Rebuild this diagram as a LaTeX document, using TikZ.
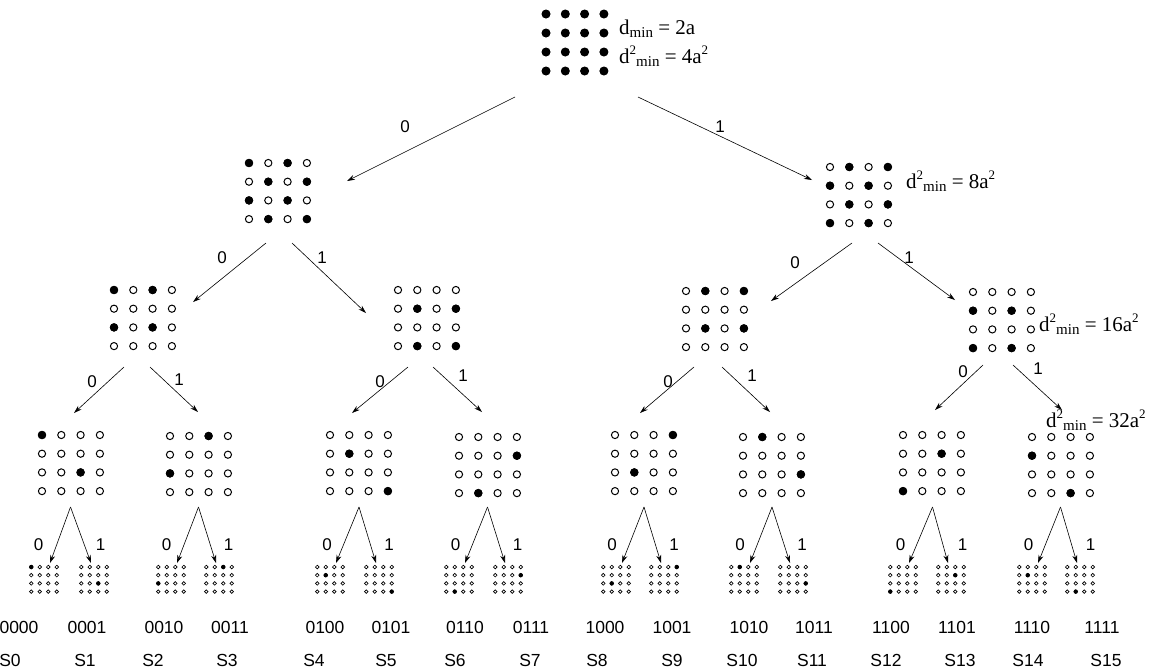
\documentclass[tikz,border=0pt]{standalone}
\usepackage{fontspec}
\setmainfont{Liberation Sans}
\newfontfamily\seriffont{Liberation Serif}
\usetikzlibrary{arrows.meta}

\tikzset{
  x=1pt, y=-1pt,
  edge/.style={-{Stealth[length=8pt,width=5pt]}, line width=0.6pt},
  elab/.style={font=\fontsize{17}{17}\selectfont, inner sep=0pt},
  dlab/.style={font=\seriffont\fontsize{21}{21}\selectfont, anchor=base west, inner sep=0pt},
  bits/.style={font=\fontsize{17.5}{17.5}\selectfont, inner sep=0pt},
}

% name, x1, y1, dx, dy, open radius, filled radius, line width, filled list (row/col)
\newcommand{\qamgrid}[9]{%
  \coordinate (#1) at ({#2+1.5*#4},{#3+1.5*#5});
  \foreach \r in {1,...,4}{\foreach \c in {1,...,4}{
    \draw[line width=#8, fill=white] ({#2+(\c-1)*#4},{#3+(\r-1)*#5}) circle[radius=#6];}}
  \foreach \r/\c in {#9}{\fill[black] ({#2+(\c-1)*#4},{#3+(\r-1)*#5}) circle[radius=#7];}
}
\newcommand{\biggrid}[4]{\qamgrid{#1}{#2}{#3}{19.3}{18.7}{3.6pt}{4.2pt}{1pt}{#4}}
\newcommand{\leafgrid}[3]{\qamgrid{#1}{#2-12.75}{567}{8.5}{8.2}{1.8pt}{2.2pt}{0.65pt}{#3}}
\newcommand{\mn}{\raisebox{-3pt}{\fontsize{15}{15}\selectfont min}}
\newcommand{\sq}{\raisebox{9pt}{\fontsize{13}{13}\selectfont 2}}

\begin{document}
\begin{tikzpicture}
\useasboundingbox (0,0) rectangle (1154,670);

% ---- grids ----
\qamgrid{g}{546}{14}{19.3}{19}{3.6pt}{4.5pt}{1pt}{1/1,1/2,1/3,1/4,2/1,2/2,2/3,2/4,3/1,3/2,3/3,3/4,4/1,4/2,4/3,4/4}
\biggrid{g0}{249}{163}{1/1,1/3,2/2,2/4,3/1,3/3,4/2,4/4}
\biggrid{g1}{830}{167}{1/2,1/4,2/1,2/3,3/2,3/4,4/1,4/3}
\biggrid{g00}{114}{290}{1/1,1/3,3/1,3/3}
\biggrid{g01}{398}{290}{2/2,2/4,4/2,4/4}
\biggrid{g10}{686}{291}{1/2,1/4,3/2,3/4}
\biggrid{g11}{973}{292}{2/1,2/3,4/1,4/3}
\biggrid{g000}{42}{435}{1/1,3/3}
\biggrid{g001}{170}{436}{1/3,3/1}
\biggrid{g010}{330}{435}{2/2,4/4}
\biggrid{g011}{459}{437}{2/4,4/2}
\biggrid{g100}{615}{435}{1/4,3/2}
\biggrid{g101}{743}{437}{1/2,3/4}
\biggrid{g110}{903}{435}{2/3,4/1}
\biggrid{g111}{1032}{437}{2/1,4/3}

\leafgrid{s0}{44}{1/1}
\leafgrid{s1}{94}{3/3}
\leafgrid{s2}{171}{3/1}
\leafgrid{s3}{219}{1/3}
\leafgrid{s4}{330}{2/2}
\leafgrid{s5}{379}{4/4}
\leafgrid{s6}{459}{4/2}
\leafgrid{s7}{508}{2/4}
\leafgrid{s8}{616}{3/2}
\leafgrid{s9}{664}{1/4}
\leafgrid{s10}{744}{1/2}
\leafgrid{s11}{793}{3/4}
\leafgrid{s12}{903}{4/1}
\leafgrid{s13}{951}{2/3}
\leafgrid{s14}{1032}{2/2}
\leafgrid{s15}{1080}{4/2}

% ---- connector end points ----
\coordinate (g-o0) at (515,97);   \coordinate (g-o1) at (638,97);
\coordinate (g0-i) at (347,181);  \coordinate (g1-i) at (812,180);
\coordinate (g0-o0) at (266,243); \coordinate (g0-o1) at (292,243);
\coordinate (g1-o0) at (852,243); \coordinate (g1-o1) at (878,243);
\coordinate (g00-i) at (193,302); \coordinate (g01-i) at (366,313);
\coordinate (g10-i) at (771,301); \coordinate (g11-i) at (955,300);
\coordinate (g00-o0) at (124,367); \coordinate (g00-o1) at (150,367);
\coordinate (g01-o0) at (408,367); \coordinate (g01-o1) at (433,367);
\coordinate (g10-o0) at (694,367); \coordinate (g10-o1) at (722,367);
\coordinate (g11-o0) at (983,365); \coordinate (g11-o1) at (1013,365);
\coordinate (g000-i) at (74,413);  \coordinate (g001-i) at (198,412);
\coordinate (g010-i) at (352,413); \coordinate (g011-i) at (482,412);
\coordinate (g100-i) at (640,413); \coordinate (g101-i) at (770,412);
\coordinate (g110-i) at (935,410); \coordinate (g111-i) at (1062,410);

\foreach \a/\b in {g-o0/g0-i, g-o1/g1-i, g0-o0/g00-i, g0-o1/g01-i, g1-o0/g10-i, g1-o1/g11-i,
  g00-o0/g000-i, g00-o1/g001-i, g01-o0/g010-i, g01-o1/g011-i,
  g10-o0/g100-i, g10-o1/g101-i, g11-o0/g110-i, g11-o1/g111-i}
  \draw[edge] (\a) -- (\b);

% third level to leaves
\foreach \p/\l/\m/\cx/\la/\lb in {g000/s0/s1/70.5/44/94, g001/s2/s3/198.5/171/219,
  g010/s4/s5/359/330/379, g011/s6/s7/487.5/459/508,
  g100/s8/s9/644/616/664, g101/s10/s11/772/744/793,
  g110/s12/s13/932.5/903/951, g111/s14/s15/1060.5/1032/1080}{
  \coordinate (\p-o) at (\cx,507);
  \coordinate (\l-i) at (\la+6,563);
  \coordinate (\m-i) at (\lb-3,563);
  \draw[edge] (\p-o) -- (\l-i);
  \draw[edge] (\p-o) -- (\m-i);
  \node[elab] (\p-l0) at (\cx-32,545) {0};
  \node[elab] (\p-l1) at (\cx+30,545) {1};
}

% ---- edge labels ----
\node[elab] (e1) at (405,127) {0};
\node[elab] (e2) at (720,127) {1};
\node[elab] (e3) at (222,258) {0};
\node[elab] (e4) at (322,258) {1};
\node[elab] (e5) at (795,263) {0};
\node[elab] (e6) at (909,258) {1};
\node[elab] (e7) at (92,382) {0};
\node[elab] (e8) at (179,380) {1};
\node[elab] (e9) at (380,382) {0};
\node[elab] (e10) at (463,376) {1};
\node[elab] (e11) at (668,382) {0};
\node[elab] (e12) at (752,376) {1};
\node[elab] (e13) at (963,372) {0};
\node[elab] (e14) at (1038,369) {1};

% ---- distance labels ----
\node[dlab] (d1) at (619,34) {d\mn{} = 2a};
\node[dlab] (d2) at (619,63) {d\sq\mn{} = 4a\sq};
\node[dlab] (d3) at (906,188) {d\sq\mn{} = 8a\sq};
\node[dlab] (d4) at (1039,331) {d\sq\mn{} = 16a\sq};
\node[dlab] (d5) at (1046,427) {d\sq\mn{} = 32a\sq};

% ---- bit labels and symbol names ----
\foreach \x/\t [count=\i from 0] in {19/0000, 87/0001, 164/0010, 230/0011, 325/0100, 391/0101,
  465/0110, 531/0111, 605/1000, 672/1001, 749/1010, 814/1011, 891/1100, 957/1101, 1032/1110, 1102/1111}
  \node[bits] (b\i) at (\x,627) {\t};
\foreach \x [count=\i from 0] in {10, 85, 153, 227, 314, 386, 455, 530, 597, 672, 742, 812, 886, 960, 1028, 1106}
  \node[bits] (n\i) at (\x,660) {S\i};
\end{tikzpicture}
\end{document}
